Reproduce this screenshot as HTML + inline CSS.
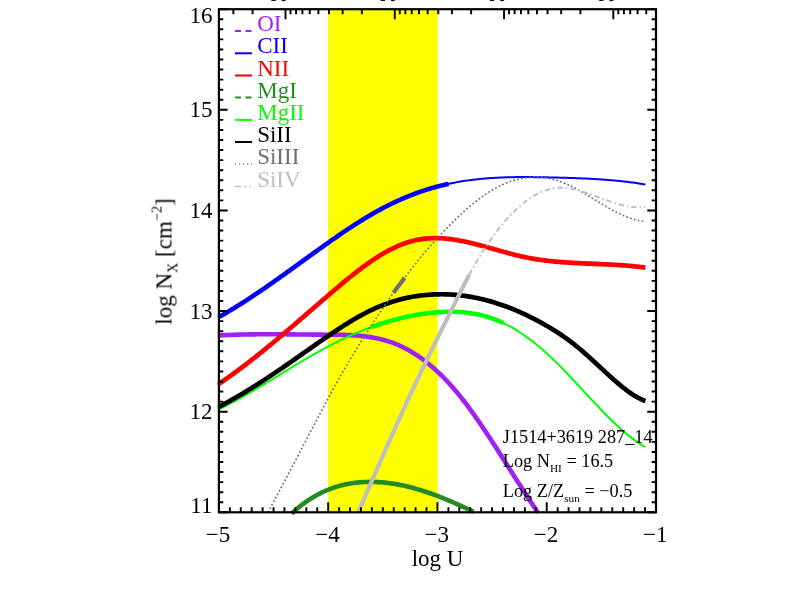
<!DOCTYPE html>
<html><head><meta charset="utf-8"><title>plot</title>
<style>
html,body{margin:0;padding:0;background:#fff;}
body{width:789px;height:599px;position:relative;overflow:hidden;font-family:"Liberation Serif",serif;}
</style></head><body>
<svg width="789" height="599" viewBox="0 0 789 599" style="position:absolute;left:0;top:0">
<defs><clipPath id="cp"><rect x="217.6" y="8" width="439" height="508"/></clipPath></defs>
<rect x="0" y="0" width="789" height="599" fill="#fff"/>
<rect x="328" y="9" width="109.7" height="503" fill="#FFFF00"/>
<g clip-path="url(#cp)" fill="none" stroke-linejoin="round" stroke-linecap="butt">
<path d="M217.60 335.52 L219.00 335.44 L220.50 335.36 L222.00 335.28 L223.50 335.21 L225.00 335.14 L226.50 335.07 L228.00 335.01 L229.50 334.94 L231.00 334.89 L232.50 334.83 L234.00 334.78 L235.50 334.73 L237.00 334.68 L238.50 334.64 L240.00 334.60 L241.50 334.56 L243.00 334.53 L244.50 334.49 L246.00 334.46 L247.50 334.43 L249.00 334.41 L250.50 334.38 L252.00 334.36 L253.50 334.34 L255.00 334.33 L256.50 334.31 L258.00 334.30 L259.50 334.29 L261.00 334.28 L262.50 334.27 L264.00 334.26 L265.50 334.26 L267.00 334.26 L268.50 334.26 L270.00 334.26 L271.50 334.26 L273.00 334.26 L274.50 334.26 L276.00 334.27 L277.50 334.28 L279.00 334.28 L280.50 334.29 L282.00 334.30 L283.50 334.31 L285.00 334.32 L286.50 334.33 L288.00 334.35 L289.50 334.36 L291.00 334.37 L292.50 334.39 L294.00 334.40 L295.50 334.41 L297.00 334.43 L298.50 334.45 L300.00 334.46 L301.50 334.48 L303.00 334.49 L304.50 334.51 L306.00 334.52 L307.50 334.54 L309.00 334.55 L310.50 334.57 L312.00 334.58 L313.50 334.59 L315.00 334.61 L316.50 334.62 L318.00 334.63 L319.50 334.64 L321.00 334.65 L322.50 334.66 L324.00 334.67 L325.50 334.68 L327.00 334.69 L328.50 334.70 L330.00 334.70 L331.50 334.71 L333.00 334.72 L334.50 334.73 L336.00 334.75 L337.50 334.76 L339.00 334.79 L340.50 334.81 L342.00 334.84 L343.50 334.88 L345.00 334.92 L346.50 334.97 L348.00 335.03 L349.50 335.09 L351.00 335.17 L352.50 335.25 L354.00 335.34 L355.50 335.44 L357.00 335.55 L358.50 335.68 L360.00 335.81 L361.50 335.96 L363.00 336.12 L364.50 336.29 L366.00 336.48 L367.50 336.69 L369.00 336.90 L370.50 337.14 L372.00 337.39 L373.50 337.66 L375.00 337.94 L376.50 338.25 L378.00 338.57 L379.50 338.91 L381.00 339.27 L382.50 339.66 L384.00 340.06 L385.50 340.49 L387.00 340.93 L388.50 341.40 L390.00 341.90 L391.50 342.41 L393.00 342.96 L394.50 343.52 L396.00 344.12 L397.50 344.74 L399.00 345.38 L400.50 346.05 L402.00 346.76 L403.50 347.48 L405.00 348.24 L406.50 349.02 L408.00 349.84 L409.50 350.68 L411.00 351.54 L412.50 352.44 L414.00 353.37 L415.50 354.32 L417.00 355.30 L418.50 356.31 L420.00 357.35 L421.50 358.42 L423.00 359.52 L424.50 360.64 L426.00 361.80 L427.50 362.99 L429.00 364.20 L430.50 365.45 L432.00 366.72 L433.50 368.03 L435.00 369.36 L436.50 370.72 L438.00 372.12 L439.50 373.54 L441.00 375.00 L442.50 376.48 L444.00 378.00 L445.50 379.55 L447.00 381.13 L448.50 382.73 L450.00 384.37 L451.50 386.05 L453.00 387.75 L454.50 389.48 L456.00 391.25 L457.50 393.04 L459.00 394.87 L460.50 396.73 L462.00 398.62 L463.50 400.54 L465.00 402.49 L466.50 404.47 L468.00 406.47 L469.50 408.50 L471.00 410.55 L472.50 412.63 L474.00 414.73 L475.50 416.85 L477.00 419.00 L478.50 421.16 L480.00 423.34 L481.50 425.55 L483.00 427.76 L484.50 430.00 L486.00 432.25 L487.50 434.51 L489.00 436.79 L490.50 439.08 L492.00 441.39 L493.50 443.70 L495.00 446.02 L496.50 448.36 L498.00 450.70 L499.50 453.04 L501.00 455.39 L502.50 457.75 L504.00 460.12 L505.50 462.48 L507.00 464.85 L508.50 467.22 L510.00 469.59 L511.50 471.96 L513.00 474.32 L514.50 476.69 L516.00 479.05 L517.50 481.41 L519.00 483.76 L520.50 486.10 L522.00 488.44 L523.50 490.77 L525.00 493.09 L526.50 495.40 L528.00 497.71 L529.50 499.99 L531.00 502.27 L532.50 504.53 L534.00 506.78 L535.50 509.01 L537.00 511.23 L538.00 512.69" stroke="#A020F0" stroke-width="4.6"/>
<path d="M217.60 317.69 L219.00 316.91 L220.50 316.08 L222.00 315.23 L223.50 314.38 L225.00 313.51 L226.50 312.64 L228.00 311.76 L229.50 310.87 L231.00 309.98 L232.50 309.07 L234.00 308.16 L235.50 307.24 L237.00 306.31 L238.50 305.38 L240.00 304.44 L241.50 303.49 L243.00 302.53 L244.50 301.57 L246.00 300.61 L247.50 299.63 L249.00 298.65 L250.50 297.67 L252.00 296.68 L253.50 295.68 L255.00 294.68 L256.50 293.67 L258.00 292.66 L259.50 291.64 L261.00 290.62 L262.50 289.59 L264.00 288.56 L265.50 287.53 L267.00 286.49 L268.50 285.45 L270.00 284.40 L271.50 283.35 L273.00 282.30 L274.50 281.24 L276.00 280.18 L277.50 279.12 L279.00 278.05 L280.50 276.99 L282.00 275.92 L283.50 274.85 L285.00 273.77 L286.50 272.70 L288.00 271.62 L289.50 270.54 L291.00 269.46 L292.50 268.38 L294.00 267.30 L295.50 266.22 L297.00 265.13 L298.50 264.05 L300.00 262.97 L301.50 261.88 L303.00 260.80 L304.50 259.71 L306.00 258.63 L307.50 257.55 L309.00 256.47 L310.50 255.38 L312.00 254.30 L313.50 253.22 L315.00 252.15 L316.50 251.07 L318.00 250.00 L319.50 248.92 L321.00 247.85 L322.50 246.79 L324.00 245.72 L325.50 244.66 L327.00 243.60 L328.50 242.54 L330.00 241.48 L331.50 240.43 L333.00 239.39 L334.50 238.34 L336.00 237.30 L337.50 236.27 L339.00 235.24 L340.50 234.21 L342.00 233.19 L343.50 232.17 L345.00 231.16 L346.50 230.16 L348.00 229.16 L349.50 228.17 L351.00 227.18 L352.50 226.20 L354.00 225.23 L355.50 224.26 L357.00 223.30 L358.50 222.35 L360.00 221.41 L361.50 220.47 L363.00 219.54 L364.50 218.62 L366.00 217.71 L367.50 216.81 L369.00 215.92 L370.50 215.03 L372.00 214.16 L373.50 213.29 L375.00 212.44 L376.50 211.59 L378.00 210.76 L379.50 209.93 L381.00 209.12 L382.50 208.32 L384.00 207.52 L385.50 206.74 L387.00 205.97 L388.50 205.22 L390.00 204.47 L391.50 203.74 L393.00 203.01 L394.50 202.30 L396.00 201.60 L397.50 200.91 L399.00 200.23 L400.50 199.57 L402.00 198.91 L403.50 198.27 L405.00 197.63 L406.50 197.01 L408.00 196.40 L409.50 195.80 L411.00 195.21 L412.50 194.63 L414.00 194.06 L415.50 193.50 L417.00 192.96 L418.50 192.42 L420.00 191.89 L421.50 191.38 L423.00 190.88 L424.50 190.38 L426.00 189.90 L427.50 189.43 L429.00 188.96 L430.50 188.51 L432.00 188.07 L433.50 187.64 L435.00 187.22 L436.50 186.80 L438.00 186.40 L439.50 186.01 L441.00 185.63 L442.50 185.26 L444.00 184.90 L445.50 184.55 L447.00 184.21 L448.50 183.88 L448.60 183.86" stroke="#0000FF" stroke-width="4.6"/>
<path d="M448.20 183.94 L448.50 183.88 L450.00 183.56 L451.50 183.24 L453.00 182.94 L454.50 182.65 L456.00 182.37 L457.50 182.09 L459.00 181.83 L460.50 181.57 L462.00 181.32 L463.50 181.08 L465.00 180.85 L466.50 180.63 L468.00 180.42 L469.50 180.21 L471.00 180.01 L472.50 179.82 L474.00 179.64 L475.50 179.46 L477.00 179.30 L478.50 179.14 L480.00 178.98 L481.50 178.84 L483.00 178.70 L484.50 178.57 L486.00 178.44 L487.50 178.32 L489.00 178.21 L490.50 178.10 L492.00 178.00 L493.50 177.91 L495.00 177.82 L496.50 177.73 L498.00 177.66 L499.50 177.58 L501.00 177.52 L502.50 177.46 L504.00 177.40 L505.50 177.35 L507.00 177.30 L508.50 177.26 L510.00 177.22 L511.50 177.19 L513.00 177.16 L514.50 177.13 L516.00 177.11 L517.50 177.10 L519.00 177.08 L520.50 177.07 L522.00 177.07 L523.50 177.06 L525.00 177.07 L526.50 177.07 L528.00 177.08 L529.50 177.08 L531.00 177.10 L532.50 177.11 L534.00 177.13 L535.50 177.15 L537.00 177.17 L538.50 177.19 L540.00 177.22 L541.50 177.24 L543.00 177.27 L544.50 177.30 L546.00 177.33 L547.50 177.37 L549.00 177.40 L550.50 177.44 L552.00 177.47 L553.50 177.51 L555.00 177.54 L556.50 177.58 L558.00 177.62 L559.50 177.66 L561.00 177.70 L562.50 177.74 L564.00 177.78 L565.50 177.82 L567.00 177.87 L568.50 177.91 L570.00 177.96 L571.50 178.00 L573.00 178.05 L574.50 178.11 L576.00 178.16 L577.50 178.21 L579.00 178.27 L580.50 178.33 L582.00 178.39 L583.50 178.45 L585.00 178.52 L586.50 178.59 L588.00 178.66 L589.50 178.74 L591.00 178.81 L592.50 178.89 L594.00 178.98 L595.50 179.06 L597.00 179.15 L598.50 179.25 L600.00 179.34 L601.50 179.44 L603.00 179.55 L604.50 179.66 L606.00 179.77 L607.50 179.88 L609.00 180.01 L610.50 180.13 L612.00 180.26 L613.50 180.39 L615.00 180.53 L616.50 180.67 L618.00 180.82 L619.50 180.98 L621.00 181.13 L622.50 181.30 L624.00 181.46 L625.50 181.64 L627.00 181.82 L628.50 182.00 L630.00 182.19 L631.50 182.39 L633.00 182.59 L634.50 182.80 L636.00 183.01 L637.50 183.23 L639.00 183.46 L640.50 183.70 L642.00 183.94 L643.50 184.18 L645.00 184.44 L645.40 184.50" stroke="#0000FF" stroke-width="2.0"/>
<path d="M217.60 384.69 L219.00 383.75 L220.50 382.74 L222.00 381.72 L223.50 380.70 L225.00 379.66 L226.50 378.61 L228.00 377.56 L229.50 376.50 L231.00 375.43 L232.50 374.35 L234.00 373.26 L235.50 372.17 L237.00 371.07 L238.50 369.96 L240.00 368.84 L241.50 367.72 L243.00 366.59 L244.50 365.45 L246.00 364.30 L247.50 363.15 L249.00 361.99 L250.50 360.83 L252.00 359.66 L253.50 358.48 L255.00 357.30 L256.50 356.12 L258.00 354.92 L259.50 353.72 L261.00 352.52 L262.50 351.31 L264.00 350.10 L265.50 348.88 L267.00 347.65 L268.50 346.42 L270.00 345.19 L271.50 343.95 L273.00 342.71 L274.50 341.47 L276.00 340.22 L277.50 338.96 L279.00 337.71 L280.50 336.45 L282.00 335.18 L283.50 333.91 L285.00 332.65 L286.50 331.37 L288.00 330.10 L289.50 328.82 L291.00 327.54 L292.50 326.26 L294.00 324.97 L295.50 323.68 L297.00 322.39 L298.50 321.10 L300.00 319.81 L301.50 318.52 L303.00 317.22 L304.50 315.93 L306.00 314.63 L307.50 313.33 L309.00 312.03 L310.50 310.73 L312.00 309.43 L313.50 308.13 L315.00 306.83 L316.50 305.53 L318.00 304.23 L319.50 302.93 L321.00 301.63 L322.50 300.33 L324.00 299.03 L325.50 297.73 L327.00 296.44 L328.50 295.14 L330.00 293.85 L331.50 292.56 L333.00 291.28 L334.50 290.00 L336.00 288.72 L337.50 287.45 L339.00 286.18 L340.50 284.92 L342.00 283.66 L343.50 282.41 L345.00 281.17 L346.50 279.94 L348.00 278.72 L349.50 277.50 L351.00 276.29 L352.50 275.10 L354.00 273.91 L355.50 272.73 L357.00 271.57 L358.50 270.42 L360.00 269.28 L361.50 268.15 L363.00 267.03 L364.50 265.93 L366.00 264.85 L367.50 263.77 L369.00 262.72 L370.50 261.68 L372.00 260.65 L373.50 259.64 L375.00 258.65 L376.50 257.68 L378.00 256.72 L379.50 255.79 L381.00 254.87 L382.50 253.97 L384.00 253.09 L385.50 252.24 L387.00 251.40 L388.50 250.59 L390.00 249.79 L391.50 249.02 L393.00 248.28 L394.50 247.56 L396.00 246.86 L397.50 246.18 L399.00 245.53 L400.50 244.91 L402.00 244.31 L403.50 243.74 L405.00 243.20 L406.50 242.68 L408.00 242.19 L409.50 241.73 L411.00 241.30 L412.50 240.90 L414.00 240.52 L415.50 240.18 L417.00 239.87 L418.50 239.58 L420.00 239.32 L421.50 239.09 L423.00 238.88 L424.50 238.70 L426.00 238.55 L427.50 238.42 L429.00 238.31 L430.50 238.23 L432.00 238.17 L433.50 238.14 L435.00 238.12 L436.50 238.13 L438.00 238.16 L439.50 238.21 L441.00 238.27 L442.50 238.36 L444.00 238.47 L445.50 238.59 L447.00 238.74 L448.50 238.90 L450.00 239.07 L451.50 239.27 L453.00 239.47 L454.50 239.70 L456.00 239.93 L457.50 240.19 L459.00 240.45 L460.50 240.73 L462.00 241.02 L463.50 241.32 L465.00 241.63 L466.50 241.96 L468.00 242.29 L469.50 242.64 L471.00 242.99 L472.50 243.35 L474.00 243.72 L475.50 244.10 L477.00 244.48 L478.50 244.87 L480.00 245.26 L481.50 245.67 L483.00 246.07 L484.50 246.48 L486.00 246.89 L487.50 247.31 L489.00 247.73 L490.50 248.15 L492.00 248.57 L493.50 249.00 L495.00 249.42 L496.50 249.85 L498.00 250.27 L499.50 250.69 L501.00 251.11 L502.50 251.53 L504.00 251.94 L505.50 252.36 L507.00 252.76 L508.50 253.17 L510.00 253.57 L511.50 253.96 L513.00 254.35 L514.50 254.73 L516.00 255.10 L517.50 255.46 L519.00 255.82 L520.50 256.17 L522.00 256.51 L523.50 256.84 L525.00 257.16 L526.50 257.46 L528.00 257.76 L529.50 258.05 L531.00 258.32 L532.50 258.59 L534.00 258.85 L535.50 259.09 L537.00 259.33 L538.50 259.56 L540.00 259.78 L541.50 259.99 L543.00 260.19 L544.50 260.39 L546.00 260.58 L547.50 260.76 L549.00 260.93 L550.50 261.09 L552.00 261.25 L553.50 261.40 L555.00 261.55 L556.50 261.69 L558.00 261.82 L559.50 261.95 L561.00 262.07 L562.50 262.18 L564.00 262.30 L565.50 262.40 L567.00 262.50 L568.50 262.60 L570.00 262.70 L571.50 262.79 L573.00 262.87 L574.50 262.96 L576.00 263.04 L577.50 263.11 L579.00 263.19 L580.50 263.26 L582.00 263.33 L583.50 263.40 L585.00 263.47 L586.50 263.53 L588.00 263.60 L589.50 263.66 L591.00 263.72 L592.50 263.79 L594.00 263.85 L595.50 263.91 L597.00 263.97 L598.50 264.04 L600.00 264.10 L601.50 264.16 L603.00 264.23 L604.50 264.30 L606.00 264.37 L607.50 264.44 L609.00 264.51 L610.50 264.59 L612.00 264.66 L613.50 264.75 L615.00 264.83 L616.50 264.92 L618.00 265.01 L619.50 265.11 L621.00 265.20 L622.50 265.31 L624.00 265.42 L625.50 265.53 L627.00 265.65 L628.50 265.77 L630.00 265.90 L631.50 266.04 L633.00 266.18 L634.50 266.32 L636.00 266.48 L637.50 266.64 L639.00 266.80 L640.50 266.98 L642.00 267.16 L643.50 267.35 L645.00 267.55 L645.40 267.60" stroke="#FF0000" stroke-width="4.699999999999999"/>
<path d="M291.60 513.58 L292.00 513.20 L293.50 511.84 L295.00 510.51 L296.50 509.22 L298.00 507.97 L299.50 506.75 L301.00 505.56 L302.50 504.41 L304.00 503.30 L305.50 502.21 L307.00 501.17 L308.50 500.15 L310.00 499.17 L311.50 498.22 L313.00 497.30 L314.50 496.41 L316.00 495.55 L317.50 494.72 L319.00 493.93 L320.50 493.16 L322.00 492.42 L323.50 491.72 L325.00 491.04 L326.50 490.38 L328.00 489.76 L329.50 489.16 L331.00 488.59 L332.50 488.05 L334.00 487.53 L335.50 487.04 L337.00 486.58 L338.50 486.13 L340.00 485.72 L341.50 485.32 L343.00 484.95 L344.50 484.61 L346.00 484.29 L347.50 483.98 L349.00 483.71 L350.50 483.45 L352.00 483.21 L353.50 483.00 L355.00 482.80 L356.50 482.63 L358.00 482.47 L359.50 482.34 L361.00 482.22 L362.50 482.12 L364.00 482.04 L365.50 481.98 L367.00 481.93 L368.50 481.90 L370.00 481.89 L371.50 481.89 L373.00 481.91 L374.50 481.95 L376.00 482.01 L377.50 482.08 L379.00 482.16 L380.50 482.26 L382.00 482.38 L383.50 482.51 L385.00 482.66 L386.50 482.82 L388.00 483.00 L389.50 483.19 L391.00 483.39 L392.50 483.61 L394.00 483.85 L395.50 484.10 L397.00 484.36 L398.50 484.63 L400.00 484.92 L401.50 485.22 L403.00 485.54 L404.50 485.87 L406.00 486.21 L407.50 486.56 L409.00 486.93 L410.50 487.30 L412.00 487.69 L413.50 488.09 L415.00 488.51 L416.50 488.93 L418.00 489.37 L419.50 489.81 L421.00 490.27 L422.50 490.74 L424.00 491.22 L425.50 491.71 L427.00 492.21 L428.50 492.72 L430.00 493.24 L431.50 493.76 L433.00 494.30 L434.50 494.85 L436.00 495.41 L437.50 495.97 L439.00 496.55 L440.50 497.13 L442.00 497.73 L443.50 498.33 L445.00 498.93 L446.50 499.55 L448.00 500.18 L449.50 500.81 L451.00 501.45 L452.50 502.09 L454.00 502.75 L455.50 503.41 L457.00 504.07 L458.50 504.75 L460.00 505.43 L461.50 506.11 L463.00 506.81 L464.50 507.51 L466.00 508.21 L467.50 508.92 L469.00 509.63 L470.50 510.35 L472.00 511.08 L473.50 511.81 L473.60 511.86" stroke="#228B22" stroke-width="4.6"/>
<path d="M217.60 410.00 L219.00 409.32 L220.50 408.58 L222.00 407.84 L223.50 407.09 L225.00 406.32 L226.50 405.55 L228.00 404.78 L229.50 403.99 L231.00 403.20 L232.50 402.39 L234.00 401.59 L235.50 400.77 L237.00 399.95 L238.50 399.12 L240.00 398.29 L241.50 397.45 L243.00 396.60 L244.50 395.75 L246.00 394.89 L247.50 394.03 L249.00 393.16 L250.50 392.29 L252.00 391.42 L253.50 390.53 L255.00 389.65 L256.50 388.76 L258.00 387.87 L259.50 386.97 L261.00 386.07 L262.50 385.17 L264.00 384.27 L265.50 383.36 L267.00 382.45 L268.50 381.54 L270.00 380.62 L271.50 379.71 L273.00 378.79 L274.50 377.87 L276.00 376.95 L277.50 376.03 L279.00 375.11 L280.50 374.19 L282.00 373.27 L283.50 372.36 L285.00 371.44 L286.50 370.52 L288.00 369.60 L289.50 368.69 L291.00 367.77 L292.50 366.86 L294.00 365.95 L295.50 365.05 L297.00 364.14 L298.50 363.24 L300.00 362.34 L301.50 361.45 L303.00 360.56 L304.50 359.67 L306.00 358.79 L307.50 357.91 L309.00 357.04 L310.50 356.17 L312.00 355.31 L313.50 354.45 L315.00 353.60 L316.50 352.75 L318.00 351.91 L319.50 351.08 L321.00 350.25 L322.50 349.43 L324.00 348.62 L325.50 347.81 L327.00 347.01 L328.50 346.22 L330.00 345.44 L331.50 344.67 L333.00 343.90 L334.50 343.14 L336.00 342.39 L337.50 341.65 L339.00 340.92 L340.50 340.19 L342.00 339.47 L343.50 338.76 L345.00 338.06 L346.50 337.36 L348.00 336.68 L349.50 336.00 L351.00 335.33 L352.50 334.67 L354.00 334.02 L355.50 333.37 L357.00 332.74 L358.50 332.11 L360.00 331.49 L361.50 330.88 L363.00 330.28 L364.50 329.69 L366.00 329.11 L367.50 328.53 L369.00 327.96 L370.50 327.41 L371.50 327.04" stroke="#00FF00" stroke-width="2.0"/>
<path d="M371.00 327.23 L372.00 326.86 L373.50 326.32 L375.00 325.79 L376.50 325.27 L378.00 324.76 L379.50 324.25 L381.00 323.76 L382.50 323.28 L384.00 322.80 L385.50 322.33 L387.00 321.88 L388.50 321.43 L390.00 320.99 L391.50 320.56 L393.00 320.15 L394.50 319.74 L396.00 319.34 L397.50 318.95 L399.00 318.57 L400.50 318.20 L402.00 317.84 L403.50 317.48 L405.00 317.14 L406.50 316.81 L408.00 316.49 L409.50 316.18 L411.00 315.88 L412.50 315.59 L414.00 315.31 L415.50 315.03 L417.00 314.77 L418.50 314.52 L420.00 314.28 L421.50 314.05 L423.00 313.83 L424.50 313.62 L426.00 313.43 L427.50 313.24 L429.00 313.06 L430.50 312.89 L432.00 312.74 L433.50 312.59 L435.00 312.45 L436.50 312.33 L438.00 312.22 L439.50 312.12 L441.00 312.02 L442.50 311.95 L444.00 311.88 L445.50 311.83 L447.00 311.79 L448.50 311.76 L450.00 311.75 L451.50 311.75 L453.00 311.77 L454.50 311.80 L456.00 311.84 L457.50 311.91 L459.00 311.98 L460.50 312.08 L462.00 312.19 L463.50 312.31 L465.00 312.46 L466.50 312.62 L468.00 312.80 L469.50 312.99 L471.00 313.21 L472.50 313.44 L474.00 313.70 L475.50 313.97 L477.00 314.26 L478.50 314.57 L480.00 314.91 L481.50 315.26 L483.00 315.64 L484.50 316.04 L486.00 316.45 L487.50 316.90 L489.00 317.36 L490.50 317.85 L492.00 318.36 L493.50 318.89 L495.00 319.45 L496.50 320.03 L498.00 320.63 L499.50 321.26 L501.00 321.92 L502.50 322.60 L503.30 322.98" stroke="#00FF00" stroke-width="4.5"/>
<path d="M503.00 322.84 L504.00 323.31 L505.50 324.04 L507.00 324.80 L508.50 325.59 L510.00 326.40 L511.50 327.23 L513.00 328.09 L514.50 328.97 L516.00 329.88 L517.50 330.81 L519.00 331.77 L520.50 332.75 L522.00 333.75 L523.50 334.78 L525.00 335.82 L526.50 336.89 L528.00 337.99 L529.50 339.10 L531.00 340.24 L532.50 341.39 L534.00 342.57 L535.50 343.77 L537.00 344.99 L538.50 346.23 L540.00 347.49 L541.50 348.77 L543.00 350.07 L544.50 351.39 L546.00 352.73 L547.50 354.09 L549.00 355.47 L550.50 356.86 L552.00 358.28 L553.50 359.71 L555.00 361.16 L556.50 362.62 L558.00 364.10 L559.50 365.60 L561.00 367.11 L562.50 368.64 L564.00 370.18 L565.50 371.73 L567.00 373.29 L568.50 374.87 L570.00 376.45 L571.50 378.04 L573.00 379.63 L574.50 381.24 L576.00 382.84 L577.50 384.46 L579.00 386.07 L580.50 387.69 L582.00 389.31 L583.50 390.93 L585.00 392.56 L586.50 394.18 L588.00 395.80 L589.50 397.41 L591.00 399.02 L592.50 400.63 L594.00 402.23 L595.50 403.83 L597.00 405.42 L598.50 407.00 L600.00 408.57 L601.50 410.13 L603.00 411.67 L604.50 413.21 L606.00 414.73 L607.50 416.24 L609.00 417.74 L610.50 419.22 L612.00 420.68 L613.50 422.13 L615.00 423.55 L616.50 424.96 L618.00 426.35 L619.50 427.71 L621.00 429.06 L622.50 430.38 L624.00 431.67 L625.50 432.94 L627.00 434.19 L628.50 435.41 L630.00 436.60 L631.50 437.76 L633.00 438.89 L634.50 440.00 L636.00 441.07 L637.50 442.11 L639.00 443.11 L640.50 444.08 L642.00 445.02 L643.50 445.92 L645.00 446.78 L645.20 446.90 L645.40 446.90" stroke="#00FF00" stroke-width="2.0"/>
<path d="M217.60 407.52 L219.00 406.79 L220.50 406.00 L222.00 405.20 L223.50 404.40 L225.00 403.59 L226.50 402.77 L228.00 401.94 L229.50 401.10 L231.00 400.26 L232.50 399.41 L234.00 398.55 L235.50 397.69 L237.00 396.82 L238.50 395.94 L240.00 395.06 L241.50 394.17 L243.00 393.27 L244.50 392.37 L246.00 391.46 L247.50 390.54 L249.00 389.62 L250.50 388.69 L252.00 387.76 L253.50 386.82 L255.00 385.88 L256.50 384.93 L258.00 383.97 L259.50 383.01 L261.00 382.05 L262.50 381.08 L264.00 380.10 L265.50 379.12 L267.00 378.14 L268.50 377.15 L270.00 376.16 L271.50 375.16 L273.00 374.16 L274.50 373.16 L276.00 372.15 L277.50 371.14 L279.00 370.12 L280.50 369.10 L282.00 368.08 L283.50 367.05 L285.00 366.02 L286.50 364.99 L288.00 363.95 L289.50 362.92 L291.00 361.88 L292.50 360.83 L294.00 359.79 L295.50 358.74 L297.00 357.69 L298.50 356.64 L300.00 355.58 L301.50 354.53 L303.00 353.47 L304.50 352.42 L306.00 351.36 L307.50 350.31 L309.00 349.25 L310.50 348.20 L312.00 347.14 L313.50 346.09 L315.00 345.04 L316.50 343.99 L318.00 342.94 L319.50 341.90 L321.00 340.86 L322.50 339.82 L324.00 338.79 L325.50 337.76 L327.00 336.73 L328.50 335.71 L330.00 334.69 L331.50 333.67 L333.00 332.67 L334.50 331.66 L336.00 330.67 L337.50 329.68 L339.00 328.69 L340.50 327.72 L342.00 326.75 L343.50 325.78 L345.00 324.83 L346.50 323.89 L348.00 322.95 L349.50 322.03 L351.00 321.12 L352.50 320.21 L354.00 319.33 L355.50 318.45 L357.00 317.59 L358.50 316.74 L360.00 315.91 L361.50 315.09 L363.00 314.28 L364.50 313.49 L366.00 312.72 L367.50 311.96 L369.00 311.21 L370.50 310.48 L372.00 309.77 L373.50 309.07 L375.00 308.39 L376.50 307.72 L378.00 307.07 L379.50 306.44 L381.00 305.83 L382.50 305.23 L384.00 304.65 L385.50 304.08 L387.00 303.54 L388.50 303.01 L390.00 302.50 L391.50 302.01 L393.00 301.53 L394.50 301.07 L396.00 300.63 L397.50 300.20 L399.00 299.79 L400.50 299.39 L402.00 299.01 L403.50 298.65 L405.00 298.30 L406.50 297.97 L408.00 297.65 L409.50 297.35 L411.00 297.06 L412.50 296.79 L414.00 296.53 L415.50 296.29 L417.00 296.06 L418.50 295.84 L420.00 295.64 L421.50 295.45 L423.00 295.28 L424.50 295.12 L426.00 294.97 L427.50 294.84 L429.00 294.72 L430.50 294.62 L432.00 294.53 L433.50 294.45 L435.00 294.38 L436.50 294.33 L438.00 294.30 L439.50 294.28 L441.00 294.27 L442.50 294.27 L444.00 294.29 L445.50 294.32 L447.00 294.37 L448.50 294.42 L450.00 294.50 L451.50 294.58 L453.00 294.68 L454.50 294.79 L456.00 294.92 L457.50 295.05 L459.00 295.21 L460.50 295.37 L462.00 295.55 L463.50 295.74 L465.00 295.94 L466.50 296.16 L468.00 296.39 L469.50 296.63 L471.00 296.89 L472.50 297.16 L474.00 297.44 L475.50 297.73 L477.00 298.04 L478.50 298.36 L480.00 298.69 L481.50 299.04 L483.00 299.39 L484.50 299.76 L486.00 300.15 L487.50 300.54 L489.00 300.95 L490.50 301.37 L492.00 301.81 L493.50 302.25 L495.00 302.71 L496.50 303.18 L498.00 303.66 L499.50 304.16 L501.00 304.66 L502.50 305.18 L504.00 305.71 L505.50 306.26 L507.00 306.81 L508.50 307.38 L510.00 307.96 L511.50 308.55 L513.00 309.16 L514.50 309.78 L516.00 310.40 L517.50 311.04 L519.00 311.70 L520.50 312.36 L522.00 313.03 L523.50 313.72 L525.00 314.42 L526.50 315.13 L528.00 315.85 L529.50 316.59 L531.00 317.33 L532.50 318.09 L534.00 318.86 L535.50 319.64 L537.00 320.43 L538.50 321.23 L540.00 322.05 L541.50 322.87 L543.00 323.71 L544.50 324.56 L546.00 325.42 L547.50 326.29 L549.00 327.18 L550.50 328.07 L552.00 328.98 L553.50 329.91 L555.00 330.84 L556.50 331.80 L558.00 332.77 L559.50 333.75 L561.00 334.75 L562.50 335.77 L564.00 336.81 L565.50 337.87 L567.00 338.94 L568.50 340.03 L570.00 341.15 L571.50 342.28 L573.00 343.44 L574.50 344.62 L576.00 345.82 L577.50 347.04 L579.00 348.28 L580.50 349.54 L582.00 350.82 L583.50 352.12 L585.00 353.43 L586.50 354.75 L588.00 356.09 L589.50 357.44 L591.00 358.80 L592.50 360.16 L594.00 361.54 L595.50 362.92 L597.00 364.30 L598.50 365.69 L600.00 367.08 L601.50 368.47 L603.00 369.86 L604.50 371.25 L606.00 372.63 L607.50 374.01 L609.00 375.38 L610.50 376.75 L612.00 378.10 L613.50 379.44 L615.00 380.76 L616.50 382.07 L618.00 383.36 L619.50 384.62 L621.00 385.86 L622.50 387.08 L624.00 388.27 L625.50 389.43 L627.00 390.56 L628.50 391.65 L630.00 392.71 L631.50 393.73 L633.00 394.72 L634.50 395.66 L636.00 396.55 L637.50 397.40 L639.00 398.21 L640.50 398.96 L642.00 399.66 L643.50 400.31 L645.00 400.90 L645.40 401.05" stroke="#000000" stroke-width="4.699999999999999"/>
<path d="M267.80 512.41 L268.00 512.04 L269.50 509.29 L271.00 506.53 L272.50 503.76 L274.00 500.99 L275.50 498.20 L277.00 495.41 L278.50 492.60 L280.00 489.80 L281.50 486.98 L283.00 484.16 L284.50 481.33 L286.00 478.50 L287.50 475.66 L289.00 472.81 L290.50 469.97 L292.00 467.11 L293.50 464.26 L295.00 461.40 L296.50 458.54 L298.00 455.68 L299.50 452.81 L301.00 449.95 L302.50 447.08 L304.00 444.22 L305.50 441.35 L307.00 438.48 L308.50 435.62 L310.00 432.75 L311.50 429.89 L313.00 427.03 L314.50 424.17 L316.00 421.31 L317.50 418.46 L319.00 415.61 L320.50 412.76 L322.00 409.92 L323.50 407.09 L325.00 404.26 L326.50 401.44 L328.00 398.63 L329.50 395.83 L331.00 393.05 L332.50 390.28 L334.00 387.53 L335.50 384.80 L337.00 382.10 L338.50 379.41 L340.00 376.75 L341.50 374.12 L343.00 371.52 L344.50 368.94 L346.00 366.38 L347.50 363.85 L349.00 361.33 L350.50 358.84 L352.00 356.36 L353.50 353.91 L355.00 351.46 L356.50 349.03 L358.00 346.62 L359.50 344.21 L361.00 341.82 L362.50 339.43 L364.00 337.06 L365.50 334.69 L367.00 332.34 L368.50 330.00 L370.00 327.67 L371.50 325.35 L373.00 323.04 L374.50 320.75 L376.00 318.46 L377.50 316.20 L379.00 313.94 L380.50 311.70 L382.00 309.47 L383.50 307.25 L385.00 305.05 L386.50 302.87 L388.00 300.70 L389.50 298.54 L391.00 296.40 L392.50 294.28 L394.00 292.17 L395.50 290.08 L397.00 288.01 L398.50 285.95 L400.00 283.90 L401.50 281.88 L403.00 279.87 L404.50 277.87 L406.00 275.89 L407.50 273.93 L409.00 271.98 L410.50 270.05 L412.00 268.14 L413.50 266.24 L415.00 264.36 L416.50 262.49 L418.00 260.64 L419.50 258.80 L421.00 256.98 L422.50 255.18 L424.00 253.39 L425.50 251.62 L427.00 249.86 L428.50 248.12 L430.00 246.40 L431.50 244.69 L433.00 243.00 L434.50 241.32 L436.00 239.66 L437.50 238.01 L439.00 236.38 L440.50 234.77 L442.00 233.17 L443.50 231.58 L445.00 230.01 L446.50 228.46 L448.00 226.93 L449.50 225.40 L451.00 223.90 L452.50 222.41 L454.00 220.93 L455.50 219.47 L457.00 218.03 L458.50 216.60 L460.00 215.19 L461.50 213.80 L463.00 212.42 L464.50 211.07 L466.00 209.73 L467.50 208.41 L469.00 207.12 L470.50 205.84 L472.00 204.58 L473.50 203.35 L475.00 202.14 L476.50 200.96 L478.00 199.79 L479.50 198.65 L481.00 197.54 L482.50 196.45 L484.00 195.39 L485.50 194.36 L487.00 193.35 L488.50 192.37 L490.00 191.42 L491.50 190.50 L493.00 189.60 L494.50 188.74 L496.00 187.91 L497.50 187.11 L499.00 186.34 L500.50 185.61 L502.00 184.90 L503.50 184.22 L505.00 183.58 L506.50 182.97 L508.00 182.38 L509.50 181.83 L511.00 181.31 L512.50 180.82 L514.00 180.37 L515.50 179.94 L517.00 179.54 L518.50 179.18 L520.00 178.85 L521.50 178.54 L523.00 178.27 L524.50 178.03 L526.00 177.83 L527.50 177.65 L529.00 177.50 L530.50 177.39 L532.00 177.31 L533.50 177.25 L535.00 177.23 L536.50 177.24 L538.00 177.28 L539.50 177.36 L541.00 177.46 L542.50 177.60 L544.00 177.76 L545.50 177.96 L547.00 178.19 L548.50 178.45 L550.00 178.74 L551.50 179.06 L553.00 179.42 L554.50 179.80 L556.00 180.22 L557.50 180.67 L559.00 181.15 L560.50 181.66 L562.00 182.20 L563.50 182.78 L565.00 183.38 L566.50 184.02 L568.00 184.68 L569.50 185.37 L571.00 186.08 L572.50 186.82 L574.00 187.58 L575.50 188.36 L577.00 189.17 L578.50 189.99 L580.00 190.82 L581.50 191.67 L583.00 192.54 L584.50 193.41 L586.00 194.30 L587.50 195.20 L589.00 196.10 L590.50 197.01 L592.00 197.93 L593.50 198.84 L595.00 199.76 L596.50 200.68 L598.00 201.60 L599.50 202.52 L601.00 203.43 L602.50 204.33 L604.00 205.23 L605.50 206.12 L607.00 207.00 L608.50 207.87 L610.00 208.73 L611.50 209.57 L613.00 210.39 L614.50 211.20 L616.00 211.99 L617.50 212.75 L619.00 213.50 L620.50 214.22 L622.00 214.92 L623.50 215.59 L625.00 216.23 L626.50 216.85 L628.00 217.43 L629.50 217.98 L631.00 218.50 L632.50 218.98 L634.00 219.43 L635.50 219.83 L637.00 220.20 L638.50 220.53 L640.00 220.81 L641.50 221.05 L643.00 221.24 L644.50 221.39 L645.40 221.45" stroke="#6E6E6E" stroke-width="1.7" stroke-dasharray="1.7 2.26"/>
<path d="M393.50 292.87 L394.00 292.17 L395.50 290.08 L397.00 288.01 L398.50 285.95 L400.00 283.90 L401.50 281.88 L403.00 279.87 L404.50 277.87 L404.60 277.74" stroke="#6E6E6E" stroke-width="4.2"/>
<path d="M358.20 512.43 L358.50 511.74 L360.00 508.29 L361.50 504.84 L363.00 501.38 L364.50 497.93 L366.00 494.48 L367.50 491.03 L369.00 487.58 L370.50 484.13 L372.00 480.69 L373.50 477.25 L375.00 473.80 L376.50 470.37 L378.00 466.94 L379.50 463.51 L381.00 460.08 L382.50 456.66 L384.00 453.25 L385.50 449.84 L387.00 446.44 L388.50 443.05 L390.00 439.66 L391.50 436.28 L393.00 432.91 L394.50 429.54 L396.00 426.19 L397.50 422.84 L399.00 419.51 L400.50 416.18 L402.00 412.87 L403.50 409.57 L405.00 406.27 L406.50 402.99 L408.00 399.73 L409.50 396.47 L411.00 393.23 L412.50 390.00 L414.00 386.79 L415.50 383.59 L417.00 380.40 L418.50 377.23 L420.00 374.08 L421.50 370.94 L423.00 367.81 L424.50 364.69 L426.00 361.59 L427.50 358.49 L429.00 355.41 L430.50 352.34 L432.00 349.28 L433.50 346.22 L435.00 343.17 L436.50 340.13 L438.00 337.09 L439.50 334.06 L441.00 331.04 L442.50 328.02 L444.00 325.00 L445.50 321.98 L447.00 318.97 L448.50 315.96 L450.00 312.94 L451.50 309.93 L453.00 306.92 L454.50 303.90 L456.00 300.88 L457.50 297.86 L459.00 294.85 L460.50 291.84 L462.00 288.85 L463.50 285.88 L465.00 282.93 L466.50 280.02 L468.00 277.15 L469.30 274.71" stroke="#BEBEBE" stroke-width="4.2"/>
<path d="M469.30 274.71 L469.50 274.33 L471.00 271.56 L472.50 268.83 L474.00 266.16 L475.50 263.54 L477.00 260.96 L478.50 258.43 L480.00 255.95 L481.50 253.52 L483.00 251.13 L484.50 248.79 L486.00 246.49 L487.50 244.24 L489.00 242.03 L490.50 239.87 L492.00 237.75 L493.50 235.68 L495.00 233.65 L496.50 231.66 L498.00 229.71 L499.50 227.81 L501.00 225.95 L502.50 224.13 L504.00 222.36 L505.50 220.62 L507.00 218.93 L508.50 217.29 L510.00 215.68 L511.50 214.12 L513.00 212.59 L514.50 211.11 L516.00 209.67 L517.50 208.27 L519.00 206.92 L520.50 205.60 L522.00 204.33 L523.50 203.10 L525.00 201.91 L526.50 200.76 L528.00 199.66 L529.50 198.60 L531.00 197.59 L532.50 196.62 L534.00 195.71 L535.50 194.83 L537.00 194.01 L538.50 193.23 L540.00 192.50 L541.50 191.83 L543.00 191.20 L544.50 190.62 L546.00 190.10 L547.50 189.62 L549.00 189.21 L550.50 188.84 L552.00 188.53 L553.50 188.27 L555.00 188.07 L556.50 187.91 L558.00 187.81 L559.50 187.75 L561.00 187.74 L562.50 187.78 L564.00 187.85 L565.50 187.97 L567.00 188.13 L568.50 188.32 L570.00 188.55 L571.50 188.81 L573.00 189.10 L574.50 189.43 L576.00 189.78 L577.50 190.16 L579.00 190.56 L580.50 190.99 L582.00 191.44 L583.50 191.90 L585.00 192.39 L586.50 192.89 L588.00 193.40 L589.50 193.93 L591.00 194.47 L592.50 195.01 L594.00 195.57 L595.50 196.13 L597.00 196.69 L598.50 197.26 L600.00 197.83 L601.50 198.40 L603.00 198.96 L604.50 199.52 L606.00 200.07 L607.50 200.62 L609.00 201.15 L610.50 201.68 L612.00 202.19 L613.50 202.69 L615.00 203.17 L616.50 203.63 L618.00 204.07 L619.50 204.49 L621.00 204.89 L622.50 205.26 L624.00 205.61 L625.50 205.93 L627.00 206.22 L628.50 206.48 L630.00 206.70 L631.50 206.89 L633.00 207.04 L634.50 207.15 L636.00 207.23 L637.50 207.26 L639.00 207.24 L640.50 207.19 L642.00 207.08 L643.50 206.93 L645.00 206.73 L645.40 206.66" stroke="#BEBEBE" stroke-width="2.0" stroke-dasharray="5.4 2.9 1.6 2.9"/>
</g>
<g stroke="#000" stroke-width="2.2" fill="none" stroke-linecap="butt">
<rect x="218.9" y="9.2" width="437.1" height="503.1"/>
</g>
<g stroke="#000" stroke-width="1.9" fill="none" stroke-linecap="butt">
<path d="M218.90 512.30 V502.24 M229.83 512.30 V507.27 M240.75 512.30 V507.27 M251.68 512.30 V507.27 M262.61 512.30 V507.27 M273.54 512.30 V507.27 M284.47 512.30 V507.27 M295.39 512.30 V507.27 M306.32 512.30 V507.27 M317.25 512.30 V507.27 M328.18 512.30 V502.24 M339.10 512.30 V507.27 M350.03 512.30 V507.27 M360.96 512.30 V507.27 M371.88 512.30 V507.27 M382.81 512.30 V507.27 M393.74 512.30 V507.27 M404.67 512.30 V507.27 M415.60 512.30 V507.27 M426.52 512.30 V507.27 M437.45 512.30 V502.24 M448.38 512.30 V507.27 M459.31 512.30 V507.27 M470.23 512.30 V507.27 M481.16 512.30 V507.27 M492.09 512.30 V507.27 M503.01 512.30 V507.27 M513.94 512.30 V507.27 M524.87 512.30 V507.27 M535.80 512.30 V507.27 M546.73 512.30 V502.24 M557.65 512.30 V507.27 M568.58 512.30 V507.27 M579.51 512.30 V507.27 M590.44 512.30 V507.27 M601.36 512.30 V507.27 M612.29 512.30 V507.27 M623.22 512.30 V507.27 M634.14 512.30 V507.27 M645.07 512.30 V507.27 M656.00 512.30 V502.24 M218.90 9.20 H227.64 M656.00 9.20 H647.26 M218.90 19.26 H223.27 M656.00 19.26 H651.63 M218.90 29.32 H223.27 M656.00 29.32 H651.63 M218.90 39.39 H223.27 M656.00 39.39 H651.63 M218.90 49.45 H223.27 M656.00 49.45 H651.63 M218.90 59.51 H223.27 M656.00 59.51 H651.63 M218.90 69.57 H223.27 M656.00 69.57 H651.63 M218.90 79.63 H223.27 M656.00 79.63 H651.63 M218.90 89.70 H223.27 M656.00 89.70 H651.63 M218.90 99.76 H223.27 M656.00 99.76 H651.63 M218.90 109.82 H227.64 M656.00 109.82 H647.26 M218.90 119.88 H223.27 M656.00 119.88 H651.63 M218.90 129.94 H223.27 M656.00 129.94 H651.63 M218.90 140.01 H223.27 M656.00 140.01 H651.63 M218.90 150.07 H223.27 M656.00 150.07 H651.63 M218.90 160.13 H223.27 M656.00 160.13 H651.63 M218.90 170.19 H223.27 M656.00 170.19 H651.63 M218.90 180.25 H223.27 M656.00 180.25 H651.63 M218.90 190.32 H223.27 M656.00 190.32 H651.63 M218.90 200.38 H223.27 M656.00 200.38 H651.63 M218.90 210.44 H227.64 M656.00 210.44 H647.26 M218.90 220.50 H223.27 M656.00 220.50 H651.63 M218.90 230.56 H223.27 M656.00 230.56 H651.63 M218.90 240.63 H223.27 M656.00 240.63 H651.63 M218.90 250.69 H223.27 M656.00 250.69 H651.63 M218.90 260.75 H223.27 M656.00 260.75 H651.63 M218.90 270.81 H223.27 M656.00 270.81 H651.63 M218.90 280.87 H223.27 M656.00 280.87 H651.63 M218.90 290.94 H223.27 M656.00 290.94 H651.63 M218.90 301.00 H223.27 M656.00 301.00 H651.63 M218.90 311.06 H227.64 M656.00 311.06 H647.26 M218.90 321.12 H223.27 M656.00 321.12 H651.63 M218.90 331.18 H223.27 M656.00 331.18 H651.63 M218.90 341.25 H223.27 M656.00 341.25 H651.63 M218.90 351.31 H223.27 M656.00 351.31 H651.63 M218.90 361.37 H223.27 M656.00 361.37 H651.63 M218.90 371.43 H223.27 M656.00 371.43 H651.63 M218.90 381.49 H223.27 M656.00 381.49 H651.63 M218.90 391.56 H223.27 M656.00 391.56 H651.63 M218.90 401.62 H223.27 M656.00 401.62 H651.63 M218.90 411.68 H227.64 M656.00 411.68 H647.26 M218.90 421.74 H223.27 M656.00 421.74 H651.63 M218.90 431.80 H223.27 M656.00 431.80 H651.63 M218.90 441.87 H223.27 M656.00 441.87 H651.63 M218.90 451.93 H223.27 M656.00 451.93 H651.63 M218.90 461.99 H223.27 M656.00 461.99 H651.63 M218.90 472.05 H223.27 M656.00 472.05 H651.63 M218.90 482.11 H223.27 M656.00 482.11 H651.63 M218.90 492.18 H223.27 M656.00 492.18 H651.63 M218.90 502.24 H223.27 M656.00 502.24 H651.63 M218.90 512.30 H227.64 M656.00 512.30 H647.26 M252.60 9.20 V14.23 M233.36 9.20 V14.23 M285.50 9.20 V19.26 M361.88 9.20 V14.23 M342.64 9.20 V14.23 M328.98 9.20 V14.23 M318.40 9.20 V14.23 M309.74 9.20 V14.23 M302.43 9.20 V14.23 M296.09 9.20 V14.23 M290.50 9.20 V14.23 M394.77 9.20 V19.26 M471.15 9.20 V14.23 M451.91 9.20 V14.23 M438.26 9.20 V14.23 M427.67 9.20 V14.23 M419.02 9.20 V14.23 M411.70 9.20 V14.23 M405.36 9.20 V14.23 M399.78 9.20 V14.23 M504.05 9.20 V19.26 M580.43 9.20 V14.23 M561.19 9.20 V14.23 M547.53 9.20 V14.23 M536.95 9.20 V14.23 M528.29 9.20 V14.23 M520.98 9.20 V14.23 M514.64 9.20 V14.23 M509.05 9.20 V14.23 M613.33 9.20 V19.26 M646.22 9.20 V14.23 M637.57 9.20 V14.23 M630.25 9.20 V14.23 M623.91 9.20 V14.23 M618.33 9.20 V14.23"/>
</g>
<g fill="none" stroke-width="2" stroke-linecap="butt">
<path d="M235 31.1 H252" stroke="#A020F0" stroke-width="2" stroke-dasharray="6 4.5"/>
<path d="M235 53.3 H252" stroke="#0000FF" stroke-width="2"/>
<path d="M235 75.5 H252" stroke="#FF0000" stroke-width="2"/>
<path d="M235 97.6 H252" stroke="#228B22" stroke-width="2" stroke-dasharray="6 4.5"/>
<path d="M235 119.9 H252" stroke="#00FF00" stroke-width="2"/>
<path d="M235 142.0 H252" stroke="#000000" stroke-width="2"/>
<path d="M235 164.1 H252" stroke="#6E6E6E" stroke-width="1.2" stroke-dasharray="1.3 2.7"/>
<path d="M235 186.5 H252" stroke="#BEBEBE" stroke-width="1.5" stroke-dasharray="6 3.5 1.5 3.5 1.5 3"/>
</g>
<g font-family="'Liberation Serif', serif" font-size="23px" fill="#000" opacity="0.999">
<text x="257.2" y="31.2" fill="#A020F0">OI</text>
<text x="257.2" y="53.4" fill="#0000FF">CII</text>
<text x="257.2" y="75.6" fill="#FF0000">NII</text>
<text x="257.2" y="97.7" fill="#228B22">MgI</text>
<text x="257.2" y="120.0" fill="#00FF00">MgII</text>
<text x="257.2" y="142.1" fill="#000000">SiII</text>
<text x="257.2" y="164.2" fill="#6E6E6E">SiIII</text>
<text x="257.2" y="186.6" fill="#BEBEBE">SiIV</text>
<text x="212.5" y="22.8" text-anchor="end">16</text>
<text x="212.5" y="117.4" text-anchor="end">15</text>
<text x="212.5" y="218.0" text-anchor="end">14</text>
<text x="212.5" y="318.7" text-anchor="end">13</text>
<text x="212.5" y="419.3" text-anchor="end">12</text>
<text x="212.5" y="512.7" text-anchor="end">11</text>
<text x="218.1" y="541.8" text-anchor="middle">−5</text>
<text x="327.4" y="541.8" text-anchor="middle">−4</text>
<text x="436.7" y="541.8" text-anchor="middle">−3</text>
<text x="545.9" y="541.8" text-anchor="middle">−2</text>
<text x="655.2" y="541.8" text-anchor="middle">−1</text>
<text x="437.5" y="566.1" text-anchor="middle">log U</text>
<text transform="translate(171.5 261.5) rotate(-90)" text-anchor="middle">log N<tspan font-size="14.3px" dy="5.8">X</tspan><tspan dy="-5.8"> [cm</tspan><tspan font-size="14.3px" dy="-10">−2</tspan><tspan dy="10">]</tspan></text>
</g>
<g font-family="'Liberation Serif', serif" font-size="18.25px" fill="#000" opacity="0.999">
<text x="502.8" y="442.6">J1514+3619 287_14</text>
<text x="502.8" y="466.7">Log N<tspan font-size="11.3px" dy="5">HI</tspan><tspan dy="-5"> = 16.5</tspan></text>
<text x="502.8" y="497.4">Log Z/Z<tspan font-size="11.3px" dy="5">sun</tspan><tspan dy="-5"> = −0.5</tspan></text>
</g>
<rect x="271.40" y="-1" width="4.4" height="2.0" fill="#111"/>
<ellipse cx="283.60" cy="-0.9" rx="2.5" ry="2.2" fill="#111"/>
<rect x="380.65" y="-1" width="4.4" height="2.0" fill="#111"/>
<ellipse cx="392.85" cy="-0.9" rx="2.5" ry="2.2" fill="#111"/>
<rect x="489.90" y="-1" width="4.4" height="2.0" fill="#111"/>
<ellipse cx="502.10" cy="-0.9" rx="2.5" ry="2.2" fill="#111"/>
<rect x="599.15" y="-1" width="4.4" height="2.0" fill="#111"/>
<ellipse cx="611.35" cy="-0.9" rx="2.5" ry="2.2" fill="#111"/>
</svg>
</body></html>
